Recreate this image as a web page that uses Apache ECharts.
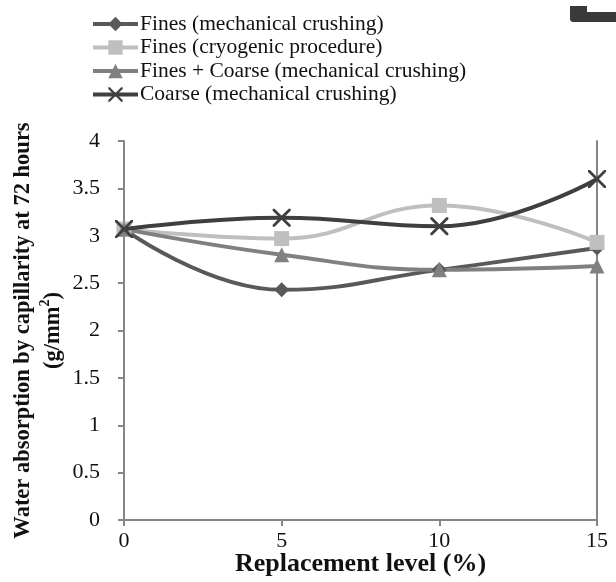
<!DOCTYPE html>
<html><head><meta charset="utf-8">
<script src="https://cdn.jsdelivr.net/npm/echarts@6/dist/echarts.min.js"></script>
<style>html,body{margin:0;padding:0;background:#fff}#c{width:616px;height:582px}</style>
</head><body><div id="c"></div>
<script>
const xValues = [0, 5, 10, 15];
const seriesNames = ['Fines (mechanical crushing)', 'Fines (cryogenic procedure)', 'Fines + Coarse (mechanical crushing)', 'Coarse (mechanical crushing)'];
const finesMech = [3.07, 2.43, 2.64, 2.87];
const finesCryo = [3.07, 2.97, 3.32, 2.93];
const finesCoarse = [3.07, 2.80, 2.64, 2.68];
const coarseMech = [3.07, 3.19, 3.10, 3.60];
const xTicks = [0, 5, 10, 15];
const yTicks = [0, 0.5, 1, 1.5, 2, 2.5, 3, 3.5, 4];

const FONT = '"Liberation Serif", "DejaVu Serif", serif';
const X_PATH = 'path://M0,0 L2.2,0 L10,7.8 L17.8,0 L20,0 L20,2.2 L12.2,10 L20,17.8 L20,20 L17.8,20 L10,12.2 L2.2,20 L0,20 L0,17.8 L7.8,10 L0,2.2 Z';
const pts = arr => xValues.map((x, i) => [x, arr[i]]);

const styles = [
  {color: '#595959', symbol: 'diamond', size: 15},
  {color: '#bfbfbf', symbol: 'rect', size: 15},
  {color: '#808080', symbol: 'triangle', size: 15},
  {color: '#3f3f3f', symbol: X_PATH, size: 18}
];
const datas = [finesMech, finesCryo, finesCoarse, coarseMech];

const chart = echarts.init(document.getElementById('c'));
chart.setOption({
  animation: false,
  backgroundColor: '#fff',
  grid: {left: 124, right: 19, top: 141, bottom: 62, containLabel: false, outerBoundsMode: 'none'},
  legend: {
    orient: 'vertical', left: 91, top: 13, padding: 0,
    itemWidth: 45, itemHeight: 18, itemGap: 1.5,
    lineStyle: {width: 4},
    textStyle: {fontFamily: FONT, fontSize: 21.5, color: '#111', lineHeight: 22, padding: [0,0,0,-3]},
    data: seriesNames
  },
  xAxis: {
    type: 'value', min: 0, max: 15, interval: 5,
    name: 'Replacement level (%)', nameLocation: 'middle', nameGap: 31, nameMoveOverlap: false,
    nameTextStyle: {fontFamily: FONT, fontSize: 26, fontWeight: 'bold', color: '#111'},
    axisLine: {show: true, lineStyle: {color: '#868686', width: 2}},
    axisTick: {show: true, inside: false, length: 6, lineStyle: {color: '#868686', width: 2}},
    axisLabel: {fontFamily: FONT, fontSize: 22, color: '#111', margin: 10, formatter: v => xTicks.includes(v) ? String(v) : ''},
    splitLine: {show: false}
  },
  yAxis: [{
    type: 'value', min: 0, max: 4, interval: 0.5,
    name: 'Water absorption by capillarity at 72 hours\n(g/mm{sup|2})',
    nameLocation: 'middle', nameGap: 56, nameRotate: 90, nameMoveOverlap: false,
    nameTextStyle: {fontFamily: FONT, fontSize: 22.5, fontWeight: 'bold', color: '#111', lineHeight: 30,
      rich: {sup: {fontFamily: FONT, fontSize: 14, fontWeight: 'bold', color: '#111', lineHeight: 30, verticalAlign: 'top', padding: [0,0,10,0]}}},
    axisLine: {show: true, lineStyle: {color: '#868686', width: 2}},
    axisTick: {show: true, inside: false, length: 6, lineStyle: {color: '#868686', width: 2}},
    axisLabel: {fontFamily: FONT, fontSize: 22, color: '#111', margin: 24, formatter: v => yTicks.includes(v) ? String(v) : ''},
    splitLine: {show: false}
  }, {
    type: 'value', min: 0, max: 4, interval: 0.5, position: 'right',
    axisLine: {show: true, lineStyle: {color: '#868686', width: 2}},
    axisTick: {show: false}, axisLabel: {show: false}, splitLine: {show: false}
  }],
  graphic: [{
    type: 'polygon', shape: {points: [[570,6],[587,6],[587,12],[616,12],[616,22],[572,22],[570,20]]},
    style: {fill: '#3a3a3a'}
  }],
  series: styles.map((s, i) => ({
    name: seriesNames[i], type: 'line', smooth: 0.45,
    data: pts(datas[i]),
    symbol: s.symbol, symbolSize: s.size,
    lineStyle: {color: s.color, width: 4},
    itemStyle: {color: s.color},
    z: i === 3 ? 5 : 2
  }))
});
</script></body></html>
